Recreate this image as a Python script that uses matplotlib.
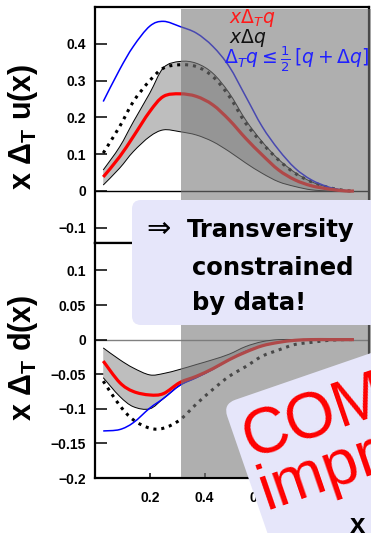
import numpy as np
import matplotlib
matplotlib.use("Agg")
import matplotlib.pyplot as plt
from matplotlib.patches import Rectangle, FancyBboxPatch, PathPatch
from matplotlib.path import Path
from matplotlib.transforms import Affine2D

plt.rcParams["font.family"] = ["Liberation Sans", "DejaVu Sans"]
plt.rcParams["mathtext.fontset"] = "custom"
plt.rcParams["mathtext.rm"] = "Liberation Sans:bold"
plt.rcParams["mathtext.it"] = "Liberation Sans:italic:bold"
plt.rcParams["mathtext.bf"] = "Liberation Sans:bold"

# ---- transversity x*Delta_T q(x) : u quark ----
x_u = [0.03, 0.09, 0.14, 0.20, 0.25, 0.31, 0.37, 0.43, 0.49, 0.55, 0.61, 0.67, 0.73, 0.79, 0.855, 0.915, 0.945]
u_central = [0.038, 0.093, 0.148, 0.216, 0.257, 0.264, 0.257, 0.234, 0.193, 0.143, 0.098, 0.057, 0.030, 0.014, 0.005, 0.0, 0.0]
u_upper   = [0.057, 0.120, 0.188, 0.266, 0.335, 0.352, 0.347, 0.320, 0.266, 0.193, 0.134, 0.086, 0.050, 0.025, 0.009, 0.001, 0.0]
u_lower   = [0.016, 0.062, 0.107, 0.148, 0.166, 0.161, 0.152, 0.134, 0.107, 0.076, 0.048, 0.025, 0.012, 0.003, 0.0, 0.0, 0.0]
u_helicity = [0.103, 0.175, 0.243, 0.300, 0.334, 0.343, 0.338, 0.311, 0.257, 0.184, 0.130, 0.084, 0.048, 0.025, 0.009, 0.001, 0.0]
u_soffer  = [0.243, 0.330, 0.393, 0.448, 0.461, 0.447, 0.429, 0.393, 0.338, 0.257, 0.175, 0.112, 0.062, 0.030, 0.010, 0.001, 0.0]

# ---- d quark ----
x_d = [0.03, 0.09, 0.14, 0.20, 0.25, 0.31, 0.37, 0.43, 0.49, 0.55, 0.61, 0.67, 0.73, 0.79, 0.855, 0.915, 0.945]
d_central = [-0.031, -0.062, -0.075, -0.080, -0.078, -0.062, -0.053, -0.042, -0.029, -0.018, -0.009, -0.004, -0.001, 0.0, 0.0, 0.0, 0.0]
d_upper   = [-0.012, -0.029, -0.041, -0.051, -0.049, -0.043, -0.036, -0.029, -0.021, -0.010, -0.003, 0.0, 0.0, 0.0, 0.0, 0.0, 0.0]
d_lower   = [-0.055, -0.082, -0.097, -0.100, -0.085, -0.066, -0.055, -0.043, -0.029, -0.017, -0.009, -0.004, -0.001, 0.0, 0.0, 0.0, 0.0]
d_helicity = [-0.060, -0.095, -0.116, -0.128, -0.128, -0.116, -0.093, -0.072, -0.053, -0.039, -0.024, -0.015, -0.007, -0.004, -0.001, 0.0, 0.0]
d_soffer  = [-0.132, -0.130, -0.120, -0.099, -0.085, -0.066, -0.055, -0.043, -0.029, -0.017, -0.009, -0.004, -0.001, 0.0, 0.0, 0.0, 0.0]

u_ticks = [-0.1, 0, 0.1, 0.2, 0.3, 0.4]
u_ticklabels = ["\u22120.1", "0", "0.1", "0.2", "0.3", "0.4"]
d_ticks = [-0.2, -0.15, -0.1, -0.05, 0, 0.05, 0.1]
d_ticklabels = ["\u22120.2", "\u22120.15", "\u22120.1", "\u22120.05", "0", "0.05", "0.1"]
x_ticks = [0.2, 0.4, 0.6, 0.8, 1.0]
x_ticklabels = ["0.2", "0.4", "0.6", "0.8", "1"]

W, H = 371, 533
fig = plt.figure(figsize=(W / 100, H / 100), dpi=100)


def frac_rect(l, t, r, b):
    return [l / W, 1 - b / H, (r - l) / W, (b - t) / H]


def bezier_segments(xs, ys):
    """Cubic Bezier control points of a Catmull-Rom curve through the points."""
    p = np.column_stack([xs, ys]).astype(float)
    ext = np.vstack([p[0], p, p[-1]])
    verts = []
    for i in range(len(p) - 1):
        p0, p1, p2, p3 = ext[i], ext[i + 1], ext[i + 2], ext[i + 3]
        verts += [p1 + (p2 - p0) / 6.0, p2 - (p3 - p1) / 6.0, p2]
    return verts


def curve_path(xs, ys):
    verts = [(xs[0], ys[0])] + bezier_segments(xs, ys)
    codes = [Path.MOVETO] + [Path.CURVE4] * (len(verts) - 1)
    return Path(verts, codes)


def band_path(xs, lo, up):
    top = [(xs[0], up[0])] + bezier_segments(xs, up)
    xr, lr = xs[::-1], lo[::-1]
    bot = [(xr[0], lr[0])] + bezier_segments(xr, lr)
    verts = top + bot + [top[0]]
    codes = ([Path.MOVETO] + [Path.CURVE4] * (len(top) - 1) + [Path.LINETO]
             + [Path.CURVE4] * (len(bot) - 1) + [Path.CLOSEPOLY])
    return Path(verts, codes)


ax_u = fig.add_axes(frac_rect(95, 7, 369, 243))
ax_d = fig.add_axes(frac_rect(95, 243, 369, 478))

band_col = "#bebebe"


def draw_panel(ax, x, cen, up, lo, hel, sof, zero_col):
    ax.axhline(0, color=zero_col, lw=1.0, zorder=1)
    ax.add_patch(PathPatch(band_path(x, lo, up), facecolor=band_col,
                           edgecolor="none", zorder=2))
    line = dict(fill=False, capstyle="butt", joinstyle="round")
    ax.add_patch(PathPatch(curve_path(x, up), edgecolor="black", lw=0.7, zorder=3, **line))
    ax.add_patch(PathPatch(curve_path(x, lo), edgecolor="black", lw=0.7, zorder=3, **line))
    ax.add_patch(PathPatch(curve_path(x, hel), edgecolor="black", lw=2.2,
                           linestyle=(0, (1, 1.6)), zorder=4, **line))
    ax.add_patch(PathPatch(curve_path(x, sof), edgecolor="blue", lw=1.1, zorder=4, **line))
    ax.add_patch(PathPatch(curve_path(x, cen), edgecolor="red", lw=2.3, zorder=5, **line))
    ax.set_xlim(0, 1.0)
    for s in ax.spines.values():
        s.set_linewidth(1.6)
    ax.tick_params(axis="y", direction="in", length=8.5, width=1.1, pad=6.5,
                   labelsize=10)
    ax.tick_params(axis="x", direction="in", length=3.5, width=1.1, pad=9,
                   labelsize=10)


draw_panel(ax_u, x_u, u_central, u_upper, u_lower, u_helicity, u_soffer, "black")
draw_panel(ax_d, x_d, d_central, d_upper, d_lower, d_helicity, d_soffer, "#808080")

ax_u.set_ylim(-0.1415, 0.5)
ax_u.set_yticks(u_ticks, u_ticklabels)
ax_u.set_xticks([])

ax_d.set_ylim(-0.2, 0.1396)
ax_d.set_yticks(d_ticks, d_ticklabels)
ax_d.set_xticks(x_ticks, x_ticklabels)
for lab in ax_u.get_yticklabels() + ax_d.get_yticklabels() + ax_d.get_xticklabels():
    lab.set_fontweight("bold")

# axis titles
fig.text(23 / W, 1 - 127 / H, r"x $\Delta_\mathregular{T}$ u(x)", rotation=90,
         ha="center", va="center", fontsize=22, fontweight="bold")
fig.text(23 / W, 1 - 358 / H, r"x $\Delta_\mathregular{T}$ d(x)", rotation=90,
         ha="center", va="center", fontsize=22, fontweight="bold")

# shaded large-x region
fig.add_artist(Rectangle((181 / W, 1 - 477 / H), (W - 181) / W, 468 / H,
                         transform=fig.transFigure, facecolor="#7a7a7a",
                         alpha=0.6, edgecolor="none", zorder=3))

# curve key
key_kw = dict(fontsize=13.5, math_fontfamily="dejavusans", zorder=4, va="center")
fig.text(229 / W, 1 - 18 / H, r"$x\Delta_T q$", color="#ff1a1a", **key_kw)
fig.text(229 / W, 1 - 38 / H, r"$x\Delta q$", color="#111111", **key_kw)
fig.text(224 / W, 1 - 59 / H, r"$\Delta_T q \leq \frac{1}{2}\,[q + \Delta q]$",
         color="#2020ff", **key_kw)

lav = "#e6e6fa"
inch = fig.dpi_scale_trans

# first callout
fig.add_artist(FancyBboxPatch((1.32, (H - 325) / 100), 2.8, 1.25,
                              boxstyle="round,pad=0,rounding_size=0.09",
                              transform=inch, facecolor=lav, edgecolor="none",
                              zorder=5))
fig.text(141 / W, 1 - 228 / H, r"$\Rightarrow$", fontsize=21, ha="left",
         va="center", math_fontfamily="dejavusans", zorder=6)
txt_kw = dict(fontsize=17.5, fontweight="bold", family="DejaVu Sans",
              ha="left", va="baseline", zorder=6)
fig.text(187 / W, 1 - 237 / H, "Transversity", **txt_kw)
fig.text(192 / W, 1 - 275 / H, "constrained", **txt_kw)
fig.text(192 / W, 1 - 310 / H, "by data!", **txt_kw)

# second, tilted callout
ang = 19
tilt = Affine2D().rotate_deg(ang).translate(2.23, (H - 404) / 100) + inch
fig.add_artist(FancyBboxPatch((0, -2.2), 3.5, 2.2,
                              boxstyle="round,pad=0,rounding_size=0.13",
                              transform=tilt, facecolor=lav, edgecolor="none",
                              zorder=7))
red_kw = dict(fontsize=46, color="red", family="Liberation Sans",
              ha="left", va="baseline", rotation=ang, rotation_mode="anchor",
              transform=tilt, zorder=8)
fig.text(0.08, -0.60, "COMPASS", **red_kw)
fig.text(0.07, -1.14, "improves", **red_kw)

fig.text(357 / W, 1 - 526 / H, "x", ha="center", va="center",
         fontsize=20, fontweight="bold", zorder=9)

fig.savefig("out.png", dpi=100)
